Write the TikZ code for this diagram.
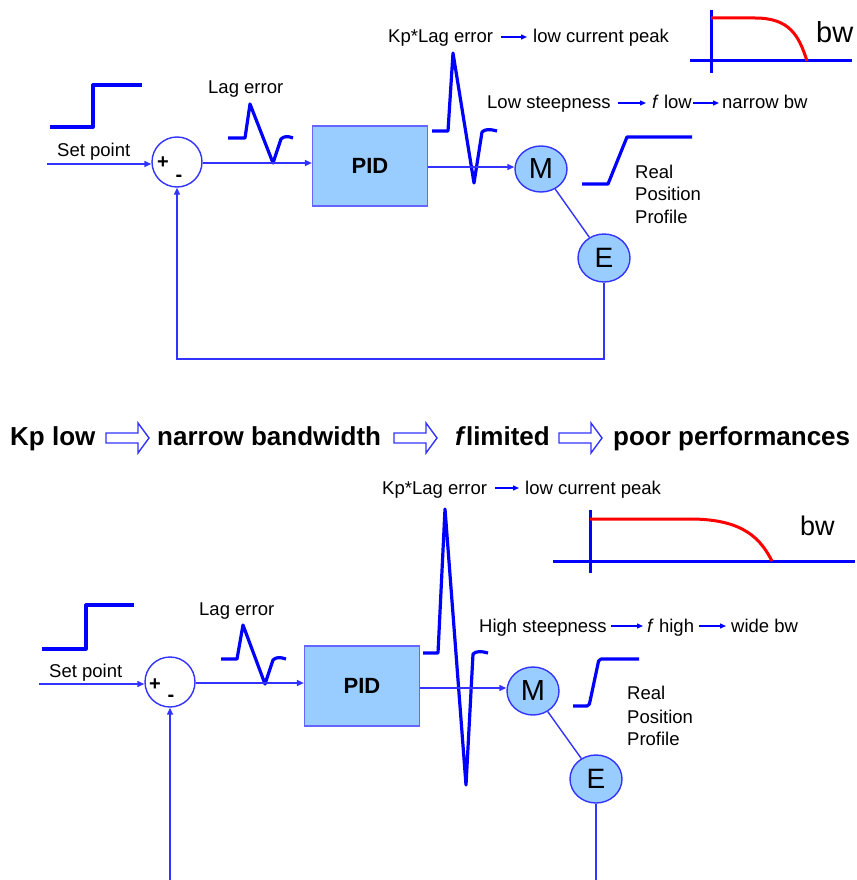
\documentclass[tikz,border=0pt]{standalone}
\usepackage{fontspec}
\setmainfont{Liberation Sans}
\usetikzlibrary{arrows.meta,shapes.geometric}
\definecolor{sigblue}{HTML}{0000FF}
\definecolor{conblue}{HTML}{3333FF}
\definecolor{boxfill}{HTML}{99CCFF}
\definecolor{boxline}{HTML}{6666FF}
\definecolor{bwred}{HTML}{FF0000}
\newcommand{\fs}[1]{\fontsize{#1}{#1}\selectfont}
\tikzset{
  sig/.style={draw=sigblue, line width=3.2pt, line join=round},
  con/.style={draw=conblue, line width=1.4pt},
  conarr/.style={con, -{Triangle[length=7pt,width=6pt]}},
  txtarr/.style={draw=sigblue, line width=1.3pt, -{Triangle[length=6pt,width=5pt]}},
  lbl/.style={inner sep=0pt, anchor=base west, font=\fs{18.5}, text=black},
  pm/.style={inner sep=0pt, font=\fs{20}\bfseries, text=black},
  sumnode/.style={circle, draw=conblue, line width=1.4pt, fill=white, minimum size=50pt, inner sep=0pt},
  dev/.style={ellipse, draw=conblue, line width=1.4pt, fill=boxfill, inner sep=0pt},
  pidbox/.style={rectangle, draw=boxline, line width=1.2pt, fill=boxfill, minimum width=115pt, minimum height=80pt, font=\fs{22}\bfseries},
  axis/.style={draw=sigblue, line width=3pt},
  bwcurve/.style={draw=bwred, line width=3pt},
  hollow/.style={draw=conblue, line width=1.4pt, fill=white, line join=miter},
  big/.style={inner sep=0pt, anchor=base west, font=\fs{26}\bfseries, text=black}
}
\begin{document}
\begin{tikzpicture}[x=1pt,y=-1pt]
\useasboundingbox (0,0) rectangle (856,880);

%================ TOP DIAGRAM ================
% set point step
\draw[sig] (50,127) -- (93,127) -- (93,85) -- (142,85);
\node[lbl] (sp1) at (57,157) {Set point};
\coordinate (in1) at (47,164);
\node[sumnode] (sum1) at (177,162) {};
\node[pm] (plus1) at (163,163) {+};
\node[pm] (minus1) at (179,178) {-};
\draw[conarr] (in1) -- (in1 -| sum1.west);

% lag error
\node[lbl] (lag1) at (208,94) {Lag error};
\draw[sig] (228,138) -- (245,138) -- (250,104) -- (273,163) -- (281,139) .. controls (284,136) and (288,136) .. (293,138);

% PID
\node[pidbox] (pid1) at (370,166) {PID};
\draw[conarr] (sum1.east |- 0,163) -- (pid1.west |- 0,163);

% PID output pulse
\draw[sig] (432,131) -- (448,131) -- (453,53) -- (474,183) -- (482,132) .. controls (485,129) and (490,129) .. (497,131);

% motor and encoder
\node[dev, minimum width=52pt, minimum height=46pt, font=\fs{29}] (mot1) at (541,169) {M};
\node[dev, minimum width=52pt, minimum height=48pt, font=\fs{28}] (enc1) at (604,258) {E};
\draw[conarr] (pid1.east |- 0,167) -- (mot1.west |- 0,167);
\draw[con] (mot1) -- (enc1);
\coordinate (fb1) at (0,359);
\draw[conarr] (enc1.south) -- (enc1.south |- fb1) -| (sum1.south);

% real position ramp
\draw[sig] (582,184) -- (608,184) -- (627,137) -- (692,137);
\node[lbl] (rp1a) at (635,178) {Real};
\node[lbl] (rp1b) at (635,200) {Position};
\node[lbl] (rp1c) at (635,223) {Profile};

% text lines
\node[lbl] (kp1) at (388,43) {Kp*Lag error};
\node[lbl] (lc1) at (533,43) {low current peak};
\draw[txtarr] ([shift={(8pt,6pt)}]kp1.base east) -- ([shift={(-6pt,6pt)}]lc1.base west);

\node[lbl] (ls1) at (487,109) {Low steepness};
\node[lbl] (fl1) at (652,109) {\textit{f} low};
\node[lbl] (nb1) at (722,109) {narrow bw};
\draw[txtarr] ([shift={(7pt,6pt)}]ls1.base east) -- ([shift={(-6pt,6pt)}]fl1.base west);
\draw[txtarr] ([shift={(1pt,6pt)}]fl1.base east) -- ([shift={(-3pt,6pt)}]nb1.base west);

% bw plot top
\draw[axis] (711,10) -- (711,73);
\draw[axis] (690,61) -- (852,61);
\draw[bwcurve] (711,18) -- (755,18) .. controls (790,18) and (799,36) .. (807,61);
\node[inner sep=0pt, anchor=base west, font=\fs{29}] (bw1) at (816,43) {bw};

%================ MIDDLE LINE ================
\node[big] (t1) at (10,445) {Kp low};
\node[big] (t2) at (157,445) {narrow bandwidth};
\node[big] (t3) at (455,445) {\textit{f}limited};
\node[big] (t4) at (613,445) {poor performances};
\foreach \xa in {106,394,559}{
  \draw[hollow] (\xa,433) -- ++(32,0) -- ++(0,-10) -- ++(11,15) -- ++(-11,15) -- ++(0,-10) -- ++(-32,0) -- cycle;
}

%================ BOTTOM DIAGRAM ================
\draw[sig] (42,649) -- (86,649) -- (86,605) -- (134,605);
\node[lbl] (sp2) at (49,677) {Set point};
\coordinate (in2) at (39,684);
\node[sumnode] (sum2) at (170,682) {};
\node[pm] (plus2) at (155,685) {+};
\node[pm] (minus2) at (171,698) {-};
\draw[conarr] (in2) -- (in2 -| sum2.west);

\node[lbl] (lag2) at (199,615) {Lag error};
\draw[sig] (221,659) -- (237,659) -- (243,625) -- (265,684) -- (273,660) .. controls (276,657) and (280,657) .. (286,659);

\node[pidbox] (pid2) at (362,686) {PID};
\draw[conarr] (sum2.east |- 0,683) -- (pid2.west |- 0,683);

\draw[sig] (423,653) -- (438,653) -- (445,509) -- (466,785) -- (473,654) .. controls (476,651) and (481,651) .. (488,653);

\node[dev, minimum width=52pt, minimum height=48pt, font=\fs{29}] (mot2) at (533,691) {M};
\node[dev, minimum width=52pt, minimum height=48pt, font=\fs{28}] (enc2) at (596,779) {E};
\draw[conarr] (pid2.east |- 0,688) -- (mot2.west |- 0,688);
\draw[con] (mot2) -- (enc2);
\coordinate (bot2) at (0,880);
\draw[con] (enc2.south) -- (enc2.south |- bot2);
\draw[conarr] (sum2.south |- bot2) -- (sum2.south);

\draw[sig, rounded corners=2pt] (573,706) -- (589,706) -- (599,659) -- (639,659);
\node[lbl] (rp2a) at (627,699) {Real};
\node[lbl] (rp2b) at (627,723) {Position};
\node[lbl] (rp2c) at (627,745) {Profile};

\node[lbl] (kp2) at (382,494) {Kp*Lag error};
\node[lbl] (lc2) at (525,494) {low current peak};
\draw[txtarr] ([shift={(8pt,6pt)}]kp2.base east) -- ([shift={(-6pt,6pt)}]lc2.base west);

\node[lbl] (hs2) at (479,632) {High steepness};
\node[lbl] (fh2) at (647,632) {\textit{f} high};
\node[lbl] (wb2) at (731,632) {wide bw};
\draw[txtarr] ([shift={(4pt,6pt)}]hs2.base east) -- ([shift={(-4pt,6pt)}]fh2.base west);
\draw[txtarr] ([shift={(5pt,6pt)}]fh2.base east) -- ([shift={(-5pt,6pt)}]wb2.base west);

\draw[axis] (590,510) -- (590,573);
\draw[axis] (553,561) -- (855,561);
\draw[bwcurve] (590,519) -- (690,519) .. controls (745,519) and (761,540) .. (772,561);
\node[inner sep=0pt, anchor=base west, font=\fs{27}] (bw2) at (800,535) {bw};
\end{tikzpicture}
\end{document}
